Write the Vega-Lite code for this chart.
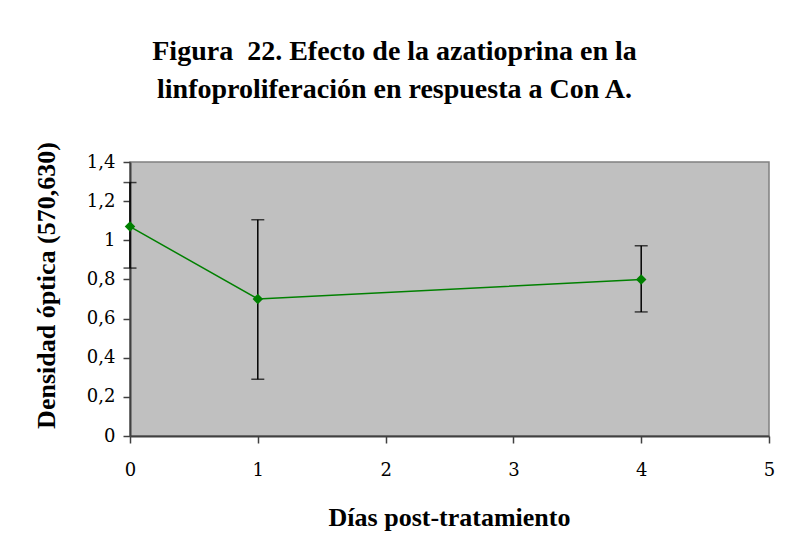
{
  "$schema": "https://vega.github.io/schema/vega-lite/v6.json",
  "width": 639,
  "height": 274,
  "autosize": {"type": "none"},
  "padding": {"left": 130, "top": 162, "right": 19, "bottom": 122},
  "background": "white",
  "title": {
    "text": ["Figura\u00a0 22. Efecto de la azatioprina en la", "linfoproliferación en respuesta a Con A."],
    "font": "Liberation Serif",
    "fontSize": 28,
    "fontWeight": "bold",
    "color": "black",
    "anchor": "middle",
    "frame": "group",
    "dx": -55,
    "offset": 38,
    "lineHeight": 38
  },
  "data": {
    "values": [
      {"dia": 0, "od": 1.07, "lo": 0.858, "hi": 1.295},
      {"dia": 1, "od": 0.70, "lo": 0.29, "hi": 1.105},
      {"dia": 4, "od": 0.80, "lo": 0.634, "hi": 0.972}
    ]
  },
  "config": {
    "view": {"fill": "#C0C0C0", "stroke": "#808080", "strokeWidth": 1.5},
    "axis": {
      "labelFont": "DejaVu Serif",
      "labelFontSize": 18,
      "labelColor": "black",
      "labelOverlap": false,
      "labelFlush": false,
      "titleFont": "Liberation Serif",
      "titleFontSize": 26,
      "titleFontWeight": "bold",
      "titleColor": "black",
      "domainColor": "#404040",
      "domainWidth": 2,
      "tickColor": "#404040",
      "tickWidth": 1.5,
      "tickSize": 7,
      "grid": false
    }
  },
  "layer": [
    {
      "mark": {"type": "errorbar", "color": "black", "thickness": 1.5, "ticks": {"size": 13, "thickness": 1.5, "color": "black"}},
      "encoding": {
        "x": {
          "field": "dia",
          "type": "quantitative",
          "scale": {"domain": [0, 5], "nice": false, "zero": false},
          "axis": {
            "title": "Días post-tratamiento",
            "values": [0, 1, 2, 3, 4, 5],
            "format": "d",
            "labelPadding": 18,
            "titleX": 319,
            "titleY": 89,
            "titleBaseline": "alphabetic",
            "titleAlign": "center"
          }
        },
        "y": {
          "field": "lo",
          "type": "quantitative",
          "scale": {"domain": [0, 1.4], "nice": false},
          "axis": {
            "title": "Densidad óptica (570,630)",
            "values": [0, 0.2, 0.4, 0.6, 0.8, 1, 1.2, 1.4],
            "labelExpr": "replace(format(datum.value, '~g'), '.', ',')",
            "labelPadding": 8,
            "titleAngle": -90,
            "titleX": -76,
            "titleY": 123,
            "titleBaseline": "alphabetic",
            "titleAlign": "center"
          }
        },
        "y2": {"field": "hi"}
      }
    },
    {
      "mark": {"type": "line", "color": "#008000", "strokeWidth": 1.5, "point": {"shape": "diamond", "size": 110, "filled": true, "color": "#008000", "opacity": 1}},
      "encoding": {
        "x": {
          "field": "dia",
          "type": "quantitative",
          "scale": {"domain": [0, 5], "nice": false, "zero": false},
          "axis": {
            "title": "Días post-tratamiento",
            "values": [0, 1, 2, 3, 4, 5],
            "format": "d",
            "labelPadding": 18,
            "titleX": 319,
            "titleY": 89,
            "titleBaseline": "alphabetic",
            "titleAlign": "center"
          }
        },
        "y": {
          "field": "od",
          "type": "quantitative",
          "scale": {"domain": [0, 1.4], "nice": false},
          "axis": {
            "title": "Densidad óptica (570,630)",
            "values": [0, 0.2, 0.4, 0.6, 0.8, 1, 1.2, 1.4],
            "labelExpr": "replace(format(datum.value, '~g'), '.', ',')",
            "labelPadding": 8,
            "titleAngle": -90,
            "titleX": -76,
            "titleY": 123,
            "titleBaseline": "alphabetic",
            "titleAlign": "center"
          }
        }
      }
    }
  ]
}
